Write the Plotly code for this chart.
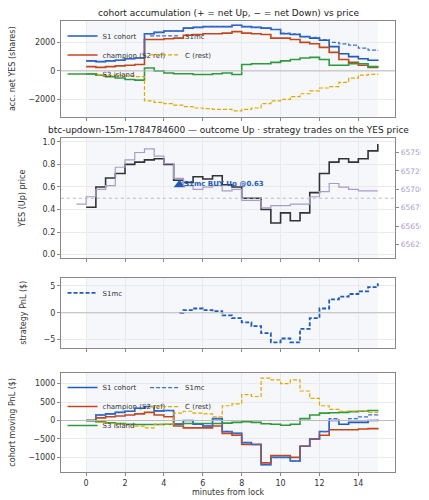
import plotly.graph_objects as go

t = [i * 0.5 for i in range(31)]

# panel 1: accumulated net YES shares
acc_s1 = [700, 650, 700, 750, 850, 900, 2600, 2700, 2800, 2800, 3000, 3050, 3100, 3100, 3100, 3200,
          3100, 3050, 3000, 2900, 2600, 2550, 2400, 2300, 2150, 1700, 1200, 1000, 850, 750, 700]
acc_s1mc = [700, 650, 700, 750, 850, 900, 2600, 2700, 2800, 2800, 3000, 3050, 3100, 3100, 3100, 3200,
            3100, 3050, 3000, 2900, 2650, 2600, 2400, 2350, 2200, 2000, 1900, 1800, 1600, 1450, 1400]
acc_champ = [300, 250, 300, 350, 400, 450, 2200, 2200, 2250, 2300, 2500, 2550, 2600, 2600, 2650, 2750,
             2650, 2600, 2550, 2300, 2300, 2200, 2000, 1900, 1650, 1300, 800, 600, 400, 250, 250]
acc_s3 = [-200, -300, -400, -500, -600, -650, 200, 0, -150, -200, -200, -250, -250, -200, -150, -250,
          450, 500, 500, 600, 700, 800, 900, 950, 800, 400, 400, 500, 500, 300, 200]
acc_c = [-200, -300, -350, -300, -350, -400, -2100, -2200, -2300, -2400, -2500, -2600, -2650, -2700, -2700, -2800,
         -2700, -2600, -2300, -2100, -2000, -1800, -1600, -1400, -1200, -1100, -800, -500, -300, -250, -200]

# panel 2: YES price and BTC
yes_price = [0.42, 0.6, 0.68, 0.72, 0.8, 0.82, 0.84, 0.85, 0.8, 0.66, 0.64, 0.69, 0.67, 0.7, 0.62, 0.6,
             0.5, 0.5, 0.4, 0.28, 0.37, 0.3, 0.37, 0.55, 0.72, 0.82, 0.85, 0.82, 0.85, 0.92, 0.98]
btc_t = [-0.5] + t
btc = [65680, 65690, 65700, 65705, 65730, 65740, 65750, 65755, 65745, 65735, 65715, 65705, 65700, 65703,
       65705, 65698, 65700, 65685, 65685, 65675, 65678, 65678, 65680, 65680, 65690, 65697, 65708, 65703,
       65700, 65698, 65698, 65698]
trade_t, trade_p = [4.8], [0.62]

# panel 3: strategy PnL
pnl_t = [4.8, 5, 5.5, 6, 6.5, 7, 7.5, 8, 8.5, 9, 9.5, 10, 10.5, 11, 11.5, 12, 12.5, 13, 13.5, 14, 14.5, 15]
pnl_s1mc = [0, 0.5, 0.8, 0.5, 0.3, -0.5, -1, -1.8, -2.5, -3.8, -5.5, -4.8, -5.5, -3, -1, 0.8, 2.5, 3, 3.5, 4, 4.8, 5.5]

# panel 4: cohort moving PnL
mp_s1 = [0, 150, 180, 220, 250, 330, 380, 260, 270, -100, 0, -100, -150, 50, -300, -350,
         -600, -650, -1200, -1000, -1000, -1100, -700, -500, -300, 0, -100, -50, -50, 0, 30]
mp_s1mc = [0, 150, 180, 220, 250, 330, 380, 260, 270, -100, 0, -100, -150, 50, -300, -350,
           -600, -650, -1200, -1000, -1000, -1100, -700, -500, -300, 50, 0, 50, 100, 150, 200]
mp_champ = [0, 70, 100, 120, 150, 180, 220, 150, 100, -150, -200, -200, -200, -150, -350, -400,
            -650, -650, -1150, -950, -950, -1000, -700, -500, -400, -250, -250, -250, -230, -220, -200]
mp_s3 = [0, -30, -60, -80, -100, -110, -110, -110, -100, -90, -80, -80, -80, -80, -70, -50,
         -30, -50, -90, -100, -130, -100, 50, 150, 200, 210, 220, 240, 250, 270, 280]
mp_c = [0, -50, -80, -100, -120, -150, -200, -100, -100, 200, 250, 200, 180, 100, 400, 450,
        700, 650, 1150, 1100, 1000, 1100, 800, 600, 400, 300, 250, 250, 250, 220, 200]

BLUE, MC, RED, GREEN, GOLD = "#1f5bb8", "#3d6fd0", "#c4471c", "#2f9a3c", "#e0a800"
PURPLE = "#a89ccd"
DASH = "4px,2px"

fig = go.Figure()

def line(x, y, name, color, dash="solid", ax="", width=1.6, legend=None):
    fig.add_trace(go.Scatter(x=x, y=y, name=name, mode="lines", line_shape="hv",
                             line=dict(color=color, dash=dash, width=width),
                             xaxis="x" + ax, yaxis="y" + ax, showlegend=legend is not None,
                             legend=legend or "legend"))

line(t, acc_s1, "S1 cohort", BLUE, legend="legend")
line(t, acc_champ, "champion (S2 ref)", RED, legend="legend")
line(t, acc_s3, "S3 island", GREEN, legend="legend")
line(t, acc_s1mc, "S1mc", MC, DASH, width=1.2, legend="legend4")
line(t, acc_c, "C (rest)", GOLD, DASH, width=1.2, legend="legend4")

line(btc_t, btc, "BTC", PURPLE, ax="5", width=1.2)
fig.data[-1].update(xaxis="x2")
line(t, yes_price, "YES", "#333333", ax="2", width=1.6)
fig.add_trace(go.Scatter(x=trade_t, y=trade_p, mode="markers", xaxis="x2", yaxis="y2", showlegend=False,
                         marker=dict(symbol="triangle-up", size=10, color=BLUE)))

fig.add_trace(go.Scatter(x=pnl_t, y=pnl_s1mc, name="S1mc", mode="lines", line_shape="hv",
                         line=dict(color=BLUE, dash=DASH, width=1.8), xaxis="x3", yaxis="y3",
                         legend="legend3"))

line(t, mp_s1, "S1 cohort", BLUE, ax="4", legend="legend2")
line(t, mp_champ, "champion (S2 ref)", RED, ax="4", legend="legend2")
line(t, mp_s3, "S3 island", GREEN, ax="4", legend="legend2")
line(t, mp_s1mc, "S1mc", MC, DASH, ax="4", width=1.2, legend="legend5")
line(t, mp_c, "C (rest)", GOLD, DASH, ax="4", width=1.2, legend="legend5")

xd = [0.098, 0.9]
doms = {"": [0.784, 0.976], "2": [0.50, 0.74], "3": [0.32, 0.46], "4": [0.07, 0.27]}
font = dict(family="DejaVu Sans", size=8, color="#333")
ax_style = dict(showline=True, linecolor="#888", mirror=True, showgrid=True, gridcolor="#eaeaea",
                zeroline=False, ticks="outside", ticklen=3, tickcolor="#888", tickfont=font)
for k, d in doms.items():
    fig.layout["xaxis" + k] = dict(domain=xd, range=[-1.3, 15.9], anchor="y" + k,
                                   tickvals=list(range(0, 15, 2)), showticklabels=(k == "4"), **ax_style)
    fig.layout["yaxis" + k] = dict(domain=d, anchor="x" + k, **ax_style)
    fig.add_shape(type="rect", x0=0, x1=15, y0=0, y1=1, xref="x" + k, yref=("y" + k + " domain"),
                  fillcolor="#eef1f8", opacity=0.6, line_width=0, layer="below")

fig.layout.yaxis.update(range=[-3200, 3500], tickvals=[-2000, 0, 2000],
                        title=dict(text="acc. net YES (shares)", font=font))
fig.layout.yaxis2.update(range=[-0.03, 1.03], tickvals=[0, 0.2, 0.4, 0.6, 0.8, 1.0], tickformat=".1f",
                         title=dict(text="YES (Up) price", font=font))
fig.layout.yaxis3.update(range=[-6.5, 6.5], tickvals=[-5, 0, 5], tickprefix="$",
                         title=dict(text="strategy PnL ($)", font=font))
fig.layout.yaxis4.update(range=[-1400, 1300], tickvals=[-1000, -500, 0, 500, 1000],
                         title=dict(text="cohort moving PnL ($)", font=font))
fig.layout.xaxis4.update(title=dict(text="minutes from lock", font=font, standoff=2))
fig.layout.yaxis5 = dict(overlaying="y2", side="right", anchor="x2", range=[65607, 65769],
                         tickvals=[65625, 65650, 65675, 65700, 65725, 65750], tickformat="d",
                         showgrid=False, tickfont=dict(family="DejaVu Sans", size=7.5, color=PURPLE),
                         ticks="outside", ticklen=3, tickcolor="#888",
                         title=dict(text="BTC/USD (strike dotted = YES 0.5)", standoff=2,
                                    font=dict(family="DejaVu Sans", size=6.5, color=PURPLE)))

for k, y0 in [("", 0), ("2", 0.5), ("3", 0), ("4", 0)]:
    fig.add_shape(type="line", x0=0, x1=1, xref="x" + k + " domain", y0=y0, y1=y0, yref="y" + k,
                  line=dict(color="#bbb", width=1, dash="dot" if k == "2" else "solid"))

fig.add_annotation(x=4.95, y=0.63, xref="x2", yref="y2", text="<b>S1mc BUY Up @0.63</b>", showarrow=False,
                   xanchor="left", font=dict(family="DejaVu Sans", size=7, color=BLUE))
tf = dict(family="DejaVu Sans", size=9, color="#222")
fig.add_annotation(x=0.5, y=0.978, xref="paper", yref="paper", showarrow=False, yanchor="bottom",
                   text="cohort accumulation (+ = net Up, − = net Down) vs price", font=tf)
fig.add_annotation(x=0.5, y=0.742, xref="paper", yref="paper", showarrow=False, yanchor="bottom",
                   text="btc-updown-15m-1784784600 — outcome Up · strategy trades on the YES price", font=tf)

lf = dict(family="DejaVu Sans", size=7, color="#333")
leg = dict(font=lf, bgcolor="rgba(255,255,255,0)", orientation="v", tracegroupgap=0,
           itemwidth=30, xanchor="left", yanchor="top")
fig.update_layout(
    legend=dict(x=0.102, y=0.975, **leg),
    legend4=dict(x=0.3, y=0.975, **leg),
    legend2=dict(x=0.102, y=0.269, **leg),
    legend5=dict(x=0.3, y=0.269, **leg),
    legend3=dict(x=0.102, y=0.459, **leg),
    width=429, height=500, margin=dict(l=0, r=0, t=0, b=0),
    paper_bgcolor="white", plot_bgcolor="white", font=font)
fig.write_html("out.html")
